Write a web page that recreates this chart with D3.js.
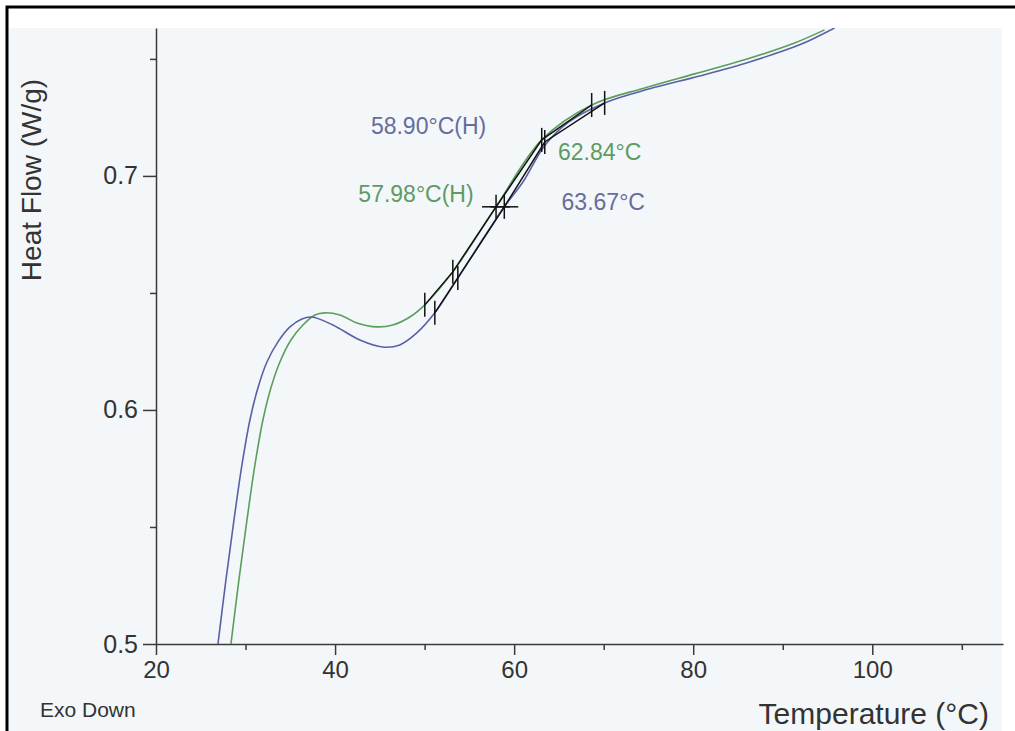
<!DOCTYPE html>
<html>

<head>
    <meta charset="utf-8">
    <title>Heat Flow vs Temperature</title>
    <script src="https://cdn.jsdelivr.net/npm/d3@7"></script>
    <style>
        body {
            margin: 0;
            background: #ffffff;
        }

        text {
            font-family: "Liberation Sans", Arial, sans-serif;
        }
    </style>
</head>

<body>
    <script>
        // Blue run
        const blueTemp = [26.92, 27.81, 28.71, 29.60, 30.49, 31.38, 32.39, 33.62, 34.96, 36.29, 37.41, 39.75, 42.77, 45.33, 47.23, 49.13,
            51.14, 53.71, 58.90, 61.0, 63.42, 66.0, 70.11, 75.13, 80.71, 86.29, 91.88, 95.78];
        const blueFlow = [0.5000, 0.5274, 0.5530, 0.5765, 0.5957, 0.6094, 0.6205, 0.6291, 0.6355, 0.6389, 0.6397, 0.6363, 0.6299, 0.6269, 0.6278, 0.6329,
            0.6415, 0.6564, 0.6868, 0.6975, 0.7130, 0.7228, 0.7312, 0.7372, 0.7427, 0.7487, 0.7560, 0.7632];

        // Green run
        const greenTemp = [28.37, 29.26, 30.16, 31.05, 31.94, 32.83, 33.84, 35.07, 36.41, 37.75, 38.86, 40.54, 42.43, 44.67, 46.45, 48.35,
            50.02, 53.15, 57.98, 63.08, 68.66, 74.58, 80.16, 85.74, 91.32, 94.67];
        const greenFlow = [0.5000, 0.5274, 0.5530, 0.5765, 0.5957, 0.6094, 0.6205, 0.6299, 0.6363, 0.6406, 0.6415, 0.6406, 0.6372, 0.6355, 0.6363, 0.6397,
            0.6449, 0.6590, 0.6868, 0.7154, 0.7303, 0.7376, 0.7436, 0.7496, 0.7568, 0.7624];

        // Glass transition marks: onset/end ticks and the half-height cross (middle entry)
        const greenMarkTemp = [50.02, 53.15, 57.98, 63.08, 68.66];
        const greenMarkFlow = [0.6449, 0.6590, 0.6868, 0.7154, 0.7303];
        const blueMarkTemp = [51.14, 53.71, 58.90, 63.42, 70.11];
        const blueMarkFlow = [0.6415, 0.6564, 0.6868, 0.7145, 0.7312];

        // Result labels, anchored in data space
        const labelText = ['58.90°C(H)', '62.84°C', '57.98°C(H)', '63.67°C'];
        const labelTemp = [44.0, 64.9, 42.6, 65.3];
        const labelFlow = [0.7180, 0.7068, 0.6889, 0.6855];
        const labelRun = ['blue', 'green', 'green', 'blue'];

        // Axis ticks
        const xMajor = [20, 40, 60, 80, 100];
        const xMinor = [30, 50, 70, 90, 110];
        const yMajor = [0.5, 0.6, 0.7];
        const yMinor = [0.55, 0.65, 0.75];

        const width = 1015;
        const height = 731;
        const colors = { blue: '#5a60a6', green: '#5a9e5c' };
        const labelColors = { blue: '#666c9e', green: '#5f9a63' };

        const svg = d3.select('body')
            .append('svg')
            .attr('width', width)
            .attr('height', height);

        // Paper and frame
        svg.append('rect')
            .attr('x', 9).attr('y', 28)
            .attr('width', 993).attr('height', height - 28)
            .attr('fill', '#f4f7f9');
        svg.append('path')
            .attr('d', `M7,${height} V7 H${width}`)
            .attr('fill', 'none')
            .attr('stroke', '#000')
            .attr('stroke-width', 3);

        const xScale = d3.scaleLinear().domain([20, 114.6]).range([156, 1003]);
        const yScale = d3.scaleLinear().domain([0.5, 0.7632]).range([644, 28]);

        svg.append('clipPath').attr('id', 'plot-clip')
            .append('rect')
            .attr('x', 156).attr('y', 28)
            .attr('width', 1003 - 156).attr('height', 644 - 28);

        // Axes
        const axisColor = '#3a3a3a';
        const xAxis = svg.append('g')
            .attr('transform', `translate(0, ${yScale(0.5)})`)
            .call(d3.axisBottom(xScale).tickValues(xMajor).tickSize(11).tickSizeOuter(0).tickPadding(6));
        xAxis.append('g')
            .call(d3.axisBottom(xScale).tickValues(xMinor).tickSize(6).tickSizeOuter(0).tickFormat(''))
            .select('.domain').remove();

        const yAxis = svg.append('g')
            .attr('transform', `translate(${xScale(20)}, 0)`)
            .call(d3.axisLeft(yScale).tickValues(yMajor).tickSize(13).tickSizeOuter(0).tickPadding(5).tickFormat(d3.format('.1f')));
        yAxis.append('g')
            .call(d3.axisLeft(yScale).tickValues(yMinor).tickSize(6).tickSizeOuter(0).tickFormat(''))
            .select('.domain').remove();

        svg.selectAll('.domain, .tick line')
            .attr('stroke', axisColor)
            .attr('stroke-width', 1.5);
        xAxis.selectAll('.tick text')
            .attr('fill', '#333')
            .style('font-size', '24px')
            .style('font-family', '"Liberation Sans", Arial, sans-serif');
        yAxis.selectAll('.tick text')
            .attr('fill', '#333')
            .style('font-size', '25px')
            .style('font-family', '"Liberation Sans", Arial, sans-serif');

        // Axis titles
        svg.append('text')
            .attr('transform', `translate(41, 180) rotate(-90)`)
            .attr('text-anchor', 'middle')
            .attr('fill', '#333')
            .style('font-size', '28px')
            .text('Heat Flow (W/g)');

        svg.append('text')
            .attr('x', 989)
            .attr('y', 724)
            .attr('text-anchor', 'end')
            .attr('fill', '#333')
            .style('font-size', '30px')
            .text('Temperature (°C)');

        svg.append('text')
            .attr('x', 40)
            .attr('y', 717)
            .attr('fill', '#333')
            .style('font-size', '21px')
            .text('Exo Down');

        // Curves
        const plot = svg.append('g').attr('clip-path', 'url(#plot-clip)');
        const line = d3.line()
            .x(d => xScale(d[0]))
            .y(d => yScale(d[1]))
            .curve(d3.curveCatmullRom.alpha(0.5));

        const runs = [
            { name: 'green', temp: greenTemp, flow: greenFlow, markT: greenMarkTemp, markF: greenMarkFlow },
            { name: 'blue', temp: blueTemp, flow: blueFlow, markT: blueMarkTemp, markF: blueMarkFlow }
        ];

        runs.forEach(run => {
            plot.append('path')
                .datum(d3.zip(run.temp, run.flow))
                .attr('fill', 'none')
                .attr('stroke', colors[run.name])
                .attr('stroke-width', 1.6)
                .attr('d', line);
        });

        // Analysis overlay in black
        const chord = d3.line()
            .x(d => xScale(d[0]))
            .y(d => yScale(d[1]));

        runs.forEach(run => {
            const marks = d3.zip(run.markT, run.markF);
            plot.append('path')
                .datum(marks)
                .attr('fill', 'none')
                .attr('stroke', '#111')
                .attr('stroke-width', 1.5)
                .attr('d', chord);

            // vertical ticks at onset/end points
            plot.selectAll(null)
                .data(marks)
                .enter()
                .append('line')
                .attr('x1', d => xScale(d[0]))
                .attr('x2', d => xScale(d[0]))
                .attr('y1', d => yScale(d[1]) - 12)
                .attr('y2', d => yScale(d[1]) + 12)
                .attr('stroke', '#111')
                .attr('stroke-width', 1.5);

            // horizontal bar of the cross at half height
            const mid = marks[2];
            plot.append('line')
                .attr('x1', xScale(mid[0]) - 14)
                .attr('x2', xScale(mid[0]) + 14)
                .attr('y1', yScale(mid[1]))
                .attr('y2', yScale(mid[1]))
                .attr('stroke', '#111')
                .attr('stroke-width', 1.5);
        });

        // Result labels
        svg.selectAll('.result-label')
            .data(d3.range(labelText.length))
            .enter()
            .append('text')
            .attr('class', 'result-label')
            .attr('x', i => xScale(labelTemp[i]))
            .attr('y', i => yScale(labelFlow[i]))
            .attr('fill', i => labelColors[labelRun[i]])
            .style('font-size', '23px')
            .text(i => labelText[i]);
    </script>
</body>

</html>
